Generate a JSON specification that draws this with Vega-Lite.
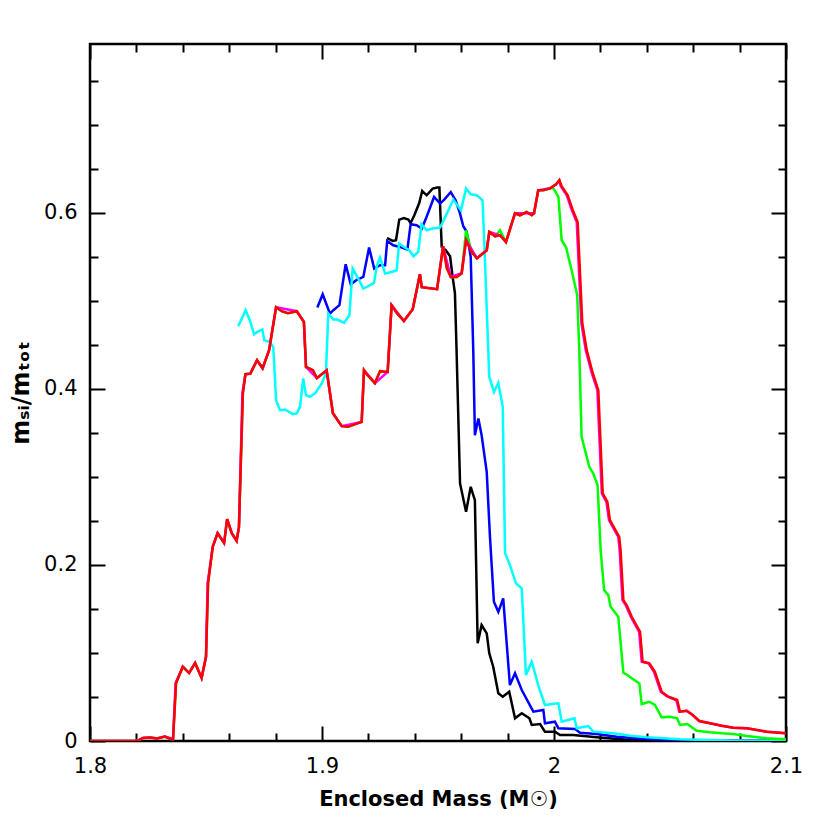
{
  "$schema": "https://vega.github.io/schema/vega-lite/v6.json",
  "width": 696,
  "height": 697,
  "autosize": {"type": "none"},
  "padding": {"left": 90, "top": 44, "right": 44, "bottom": 89},
  "background": "white",
  "config": {
    "view": {"stroke": "black", "strokeWidth": 2.5},
    "axis": {"grid": false, "domain": false, "tickColor": "black", "tickWidth": 2, "labelColor": "black", "titleColor": "black", "labelFont": "DejaVu Sans", "titleFont": "DejaVu Sans", "labelFontSize": 21, "titleFontSize": 21, "labelFlush": false, "labelOverlap": false, "labelBound": false}
  },
  "data": {"values": [
    {"s":"r","x":1.8,"y":0},{"s":"r","x":1.8203,"y":0},{"s":"r","x":1.8228,"y":0.0034},{"s":"r","x":1.8259,"y":0.004},{"s":"r","x":1.8289,"y":0.0028},{"s":"r","x":1.8323,"y":0.0051},{"s":"r","x":1.8345,"y":0.0023},{"s":"r","x":1.8358,"y":0.0023},{"s":"r","x":1.8371,"y":0.0659},{"s":"r","x":1.84,"y":0.0844},{"s":"r","x":1.8427,"y":0.0772},{"s":"r","x":1.8453,"y":0.0886},{"s":"r","x":1.8481,"y":0.0716},{"s":"r","x":1.85,"y":0.0957},{"s":"r","x":1.8509,"y":0.1794},{"s":"r","x":1.8529,"y":0.2207},{"s":"r","x":1.855,"y":0.2362},{"s":"r","x":1.8578,"y":0.2249},{"s":"r","x":1.8591,"y":0.2521},{"s":"r","x":1.8611,"y":0.2362},{"s":"r","x":1.8632,"y":0.2275},{"s":"r","x":1.8642,"y":0.243},{"s":"r","x":1.8659,"y":0.3952},{"s":"r","x":1.867,"y":0.4168},{"s":"r","x":1.8691,"y":0.4174},{"s":"r","x":1.872,"y":0.4327},{"s":"r","x":1.8744,"y":0.4236},{"s":"r","x":1.8772,"y":0.4441},{"s":"r","x":1.8802,"y":0.4929},{"s":"r","x":1.8826,"y":0.4884},{"s":"r","x":1.8853,"y":0.4861},{"s":"r","x":1.8891,"y":0.4884},{"s":"r","x":1.8922,"y":0.4762},{"s":"r","x":1.8931,"y":0.4251},{"s":"r","x":1.8961,"y":0.4213},{"s":"r","x":1.8978,"y":0.4123},{"s":"r","x":1.902,"y":0.4213},{"s":"r","x":1.9047,"y":0.3725},{"s":"r","x":1.9085,"y":0.3578},{"s":"r","x":1.9112,"y":0.357},{"s":"r","x":1.9171,"y":0.3626},{"s":"r","x":1.9181,"y":0.4213},{"s":"r","x":1.9193,"y":0.4168},{"s":"r","x":1.9228,"y":0.4066},{"s":"r","x":1.925,"y":0.4202},{"s":"r","x":1.9283,"y":0.4194},{"s":"r","x":1.93,"y":0.4952},{"s":"r","x":1.9323,"y":0.4861},{"s":"r","x":1.9353,"y":0.4773},{"s":"r","x":1.9391,"y":0.4906},{"s":"r","x":1.9422,"y":0.5304},{"s":"r","x":1.943,"y":0.5156},{"s":"r","x":1.9496,"y":0.5134},{"s":"r","x":1.9522,"y":0.5622},{"s":"r","x":1.9538,"y":0.5372},{"s":"r","x":1.9555,"y":0.5273},{"s":"r","x":1.9581,"y":0.5273},{"s":"r","x":1.9602,"y":0.5315},{"s":"r","x":1.9621,"y":0.569},{"s":"r","x":1.9645,"y":0.5557},{"s":"r","x":1.9668,"y":0.5485},{"s":"r","x":1.971,"y":0.5576},{"s":"r","x":1.9721,"y":0.5784},{"s":"r","x":1.9746,"y":0.5735},{"s":"r","x":1.9767,"y":0.5747},{"s":"r","x":1.9793,"y":0.5671},{"s":"r","x":1.9832,"y":0.5997},{"s":"r","x":1.9853,"y":0.5974},{"s":"r","x":1.9882,"y":0.6011},{"s":"r","x":1.9904,"y":0.5974},{"s":"r","x":1.9914,"y":0.5997},{"s":"r","x":1.9932,"y":0.6258},{"s":"r","x":1.9954,"y":0.6258},{"s":"r","x":1.9983,"y":0.628},{"s":"r","x":2.0009,"y":0.6326},{"s":"r","x":2.0023,"y":0.6371},{"s":"r","x":2.0033,"y":0.6303},{"s":"r","x":2.0059,"y":0.6201},{"s":"r","x":2.0081,"y":0.6031},{"s":"r","x":2.0102,"y":0.5898},{"s":"r","x":2.0122,"y":0.4747},{"s":"r","x":2.0141,"y":0.4441},{"s":"r","x":2.0167,"y":0.4179},{"s":"r","x":2.0191,"y":0.3986},{"s":"r","x":2.021,"y":0.2813},{"s":"r","x":2.023,"y":0.2718},{"s":"r","x":2.0241,"y":0.251},{"s":"r","x":2.0281,"y":0.232},{"s":"r","x":2.0287,"y":0.2169},{"s":"r","x":2.0299,"y":0.1601},{"s":"r","x":2.0313,"y":0.1545},{"s":"r","x":2.0335,"y":0.1412},{"s":"r","x":2.0371,"y":0.1241},{"s":"r","x":2.0382,"y":0.0901},{"s":"r","x":2.0411,"y":0.0882},{"s":"r","x":2.0435,"y":0.0787},{"s":"r","x":2.0464,"y":0.056},{"s":"r","x":2.0493,"y":0.0503},{"s":"r","x":2.0531,"y":0.0466},{"s":"r","x":2.0543,"y":0.0333},{"s":"r","x":2.0572,"y":0.0344},{"s":"r","x":2.0598,"y":0.0295},{"s":"r","x":2.0626,"y":0.0227},{"s":"r","x":2.0672,"y":0.0201},{"s":"r","x":2.0723,"y":0.0174},{"s":"r","x":2.0773,"y":0.0151},{"s":"r","x":2.0831,"y":0.0144},{"s":"r","x":2.0917,"y":0.0106},{"s":"r","x":2.1,"y":0.0087},

    {"s":"m","x":1.8,"y":0},{"s":"m","x":1.8203,"y":0},{"s":"m","x":1.8228,"y":0.0034},{"s":"m","x":1.8259,"y":0.004},{"s":"m","x":1.8289,"y":0.0028},{"s":"m","x":1.8323,"y":0.0051},{"s":"m","x":1.8358,"y":0.0023},{"s":"m","x":1.8369,"y":0.0659},{"s":"m","x":1.84,"y":0.0844},{"s":"m","x":1.8427,"y":0.0772},{"s":"m","x":1.8453,"y":0.0886},{"s":"m","x":1.8481,"y":0.0716},{"s":"m","x":1.85,"y":0.0957},{"s":"m","x":1.8507,"y":0.1794},{"s":"m","x":1.8529,"y":0.2207},{"s":"m","x":1.855,"y":0.2362},{"s":"m","x":1.8578,"y":0.2249},{"s":"m","x":1.8591,"y":0.2521},{"s":"m","x":1.8611,"y":0.2362},{"s":"m","x":1.8632,"y":0.2275},{"s":"m","x":1.8642,"y":0.243},{"s":"m","x":1.8657,"y":0.3952},{"s":"m","x":1.867,"y":0.4168},{"s":"m","x":1.8691,"y":0.4174},{"s":"m","x":1.872,"y":0.4327},{"s":"m","x":1.8744,"y":0.4236},{"s":"m","x":1.8772,"y":0.4441},{"s":"m","x":1.8802,"y":0.4929},{"s":"m","x":1.8891,"y":0.4884},{"s":"m","x":1.8922,"y":0.4762},{"s":"m","x":1.8931,"y":0.4251},{"s":"m","x":1.8978,"y":0.4123},{"s":"m","x":1.902,"y":0.4213},{"s":"m","x":1.9047,"y":0.3725},{"s":"m","x":1.9085,"y":0.3578},{"s":"m","x":1.9171,"y":0.3626},{"s":"m","x":1.9181,"y":0.4213},{"s":"m","x":1.9228,"y":0.4066},{"s":"m","x":1.9283,"y":0.4194},{"s":"m","x":1.93,"y":0.4952},{"s":"m","x":1.9353,"y":0.4773},{"s":"m","x":1.9391,"y":0.4906},{"s":"m","x":1.9422,"y":0.5304},{"s":"m","x":1.943,"y":0.5156},{"s":"m","x":1.9496,"y":0.5134},{"s":"m","x":1.9522,"y":0.5622},{"s":"m","x":1.9555,"y":0.5273},{"s":"m","x":1.9602,"y":0.5315},{"s":"m","x":1.9621,"y":0.569},{"s":"m","x":1.9668,"y":0.5485},{"s":"m","x":1.971,"y":0.5576},{"s":"m","x":1.9721,"y":0.5784},{"s":"m","x":1.9767,"y":0.5747},{"s":"m","x":1.9793,"y":0.5671},{"s":"m","x":1.9832,"y":0.5997},{"s":"m","x":1.9914,"y":0.5997},{"s":"m","x":1.9932,"y":0.6258},{"s":"m","x":1.9983,"y":0.628},{"s":"m","x":2.0009,"y":0.6326},{"s":"m","x":2.0023,"y":0.6371},{"s":"m","x":2.0029,"y":0.6303},{"s":"m","x":2.0055,"y":0.6201},{"s":"m","x":2.0077,"y":0.6031},{"s":"m","x":2.0098,"y":0.5898},{"s":"m","x":2.0118,"y":0.4747},{"s":"m","x":2.0137,"y":0.4441},{"s":"m","x":2.0163,"y":0.4179},{"s":"m","x":2.0187,"y":0.3986},{"s":"m","x":2.0206,"y":0.2813},{"s":"m","x":2.0226,"y":0.2718},{"s":"m","x":2.0237,"y":0.251},{"s":"m","x":2.0277,"y":0.232},{"s":"m","x":2.0283,"y":0.2169},{"s":"m","x":2.0295,"y":0.1601},{"s":"m","x":2.0309,"y":0.1545},{"s":"m","x":2.0331,"y":0.1412},{"s":"m","x":2.0367,"y":0.1241},{"s":"m","x":2.0378,"y":0.0901},{"s":"m","x":2.0407,"y":0.0882},{"s":"m","x":2.0431,"y":0.0787},{"s":"m","x":2.046,"y":0.056},{"s":"m","x":2.0489,"y":0.0503},{"s":"m","x":2.0527,"y":0.0466},{"s":"m","x":2.054,"y":0.0333},{"s":"m","x":2.0572,"y":0.0344},{"s":"m","x":2.0598,"y":0.0295},{"s":"m","x":2.0626,"y":0.0227},{"s":"m","x":2.0672,"y":0.0201},{"s":"m","x":2.0723,"y":0.0174},{"s":"m","x":2.0773,"y":0.0151},{"s":"m","x":2.0831,"y":0.0144},{"s":"m","x":2.0917,"y":0.0106},{"s":"m","x":2.1,"y":0.0087},

    {"s":"g","x":1.8,"y":0},{"s":"g","x":1.8203,"y":0},{"s":"g","x":1.8228,"y":0.0034},{"s":"g","x":1.8259,"y":0.004},{"s":"g","x":1.8289,"y":0.0028},{"s":"g","x":1.8323,"y":0.0051},{"s":"g","x":1.8345,"y":0.0023},{"s":"g","x":1.8358,"y":0.0023},{"s":"g","x":1.8371,"y":0.0659},{"s":"g","x":1.84,"y":0.0844},{"s":"g","x":1.8427,"y":0.0772},{"s":"g","x":1.8453,"y":0.0886},{"s":"g","x":1.8481,"y":0.0716},{"s":"g","x":1.85,"y":0.0957},{"s":"g","x":1.8509,"y":0.1794},{"s":"g","x":1.8529,"y":0.2207},{"s":"g","x":1.855,"y":0.2362},{"s":"g","x":1.8578,"y":0.2249},{"s":"g","x":1.8591,"y":0.2521},{"s":"g","x":1.8611,"y":0.2362},{"s":"g","x":1.8632,"y":0.2275},{"s":"g","x":1.8642,"y":0.243},{"s":"g","x":1.8659,"y":0.3952},{"s":"g","x":1.867,"y":0.4168},{"s":"g","x":1.8691,"y":0.4174},{"s":"g","x":1.872,"y":0.4327},{"s":"g","x":1.8744,"y":0.4236},{"s":"g","x":1.8772,"y":0.4441},{"s":"g","x":1.8802,"y":0.4929},{"s":"g","x":1.8826,"y":0.4884},{"s":"g","x":1.8853,"y":0.4861},{"s":"g","x":1.8891,"y":0.4884},{"s":"g","x":1.8922,"y":0.4762},{"s":"g","x":1.8931,"y":0.4251},{"s":"g","x":1.8961,"y":0.4213},{"s":"g","x":1.8978,"y":0.4123},{"s":"g","x":1.902,"y":0.4213},{"s":"g","x":1.9047,"y":0.3725},{"s":"g","x":1.9085,"y":0.3578},{"s":"g","x":1.9112,"y":0.357},{"s":"g","x":1.9171,"y":0.3626},{"s":"g","x":1.9181,"y":0.4213},{"s":"g","x":1.9193,"y":0.4168},{"s":"g","x":1.9228,"y":0.4066},{"s":"g","x":1.925,"y":0.4202},{"s":"g","x":1.9283,"y":0.4194},{"s":"g","x":1.93,"y":0.4952},{"s":"g","x":1.9323,"y":0.4861},{"s":"g","x":1.9353,"y":0.4773},{"s":"g","x":1.9391,"y":0.4906},{"s":"g","x":1.9422,"y":0.5304},{"s":"g","x":1.943,"y":0.5156},{"s":"g","x":1.9496,"y":0.5134},{"s":"g","x":1.9522,"y":0.5622},{"s":"g","x":1.9538,"y":0.5372},{"s":"g","x":1.9555,"y":0.5273},{"s":"g","x":1.9581,"y":0.5273},{"s":"g","x":1.9602,"y":0.5315},{"s":"g","x":1.9621,"y":0.5803},{"s":"g","x":1.9645,"y":0.5557},{"s":"g","x":1.9668,"y":0.5485},{"s":"g","x":1.971,"y":0.5576},{"s":"g","x":1.9721,"y":0.5784},{"s":"g","x":1.9746,"y":0.5735},{"s":"g","x":1.9767,"y":0.5803},{"s":"g","x":1.9793,"y":0.5671},{"s":"g","x":1.9832,"y":0.5997},{"s":"g","x":1.9853,"y":0.5974},{"s":"g","x":1.9882,"y":0.6011},{"s":"g","x":1.9904,"y":0.5974},{"s":"g","x":1.9914,"y":0.5997},{"s":"g","x":1.9932,"y":0.6258},{"s":"g","x":1.9954,"y":0.6258},{"s":"g","x":1.9983,"y":0.628},{"s":"g","x":1.9997,"y":0.628},{"s":"g","x":2.0019,"y":0.6182},{"s":"g","x":2.0033,"y":0.569},{"s":"g","x":2.0052,"y":0.561},{"s":"g","x":2.0076,"y":0.5349},{"s":"g","x":2.01,"y":0.5065},{"s":"g","x":2.0109,"y":0.4441},{"s":"g","x":2.0119,"y":0.3456},{"s":"g","x":2.0152,"y":0.3115},{"s":"g","x":2.0169,"y":0.304},{"s":"g","x":2.0188,"y":0.2907},{"s":"g","x":2.0201,"y":0.2169},{"s":"g","x":2.0216,"y":0.1715},{"s":"g","x":2.0234,"y":0.1658},{"s":"g","x":2.0244,"y":0.1525},{"s":"g","x":2.0277,"y":0.1412},{"s":"g","x":2.0299,"y":0.0776},{"s":"g","x":2.0316,"y":0.075},{"s":"g","x":2.0335,"y":0.0712},{"s":"g","x":2.0368,"y":0.0655},{"s":"g","x":2.0378,"y":0.042},{"s":"g","x":2.0411,"y":0.0446},{"s":"g","x":2.0435,"y":0.0409},{"s":"g","x":2.0464,"y":0.0269},{"s":"g","x":2.05,"y":0.0276},{"s":"g","x":2.0531,"y":0.0258},{"s":"g","x":2.0543,"y":0.0182},{"s":"g","x":2.0575,"y":0.0193},{"s":"g","x":2.0615,"y":0.0117},{"s":"g","x":2.0672,"y":0.0099},{"s":"g","x":2.0723,"y":0.0087},{"s":"g","x":2.0773,"y":0.0079},{"s":"g","x":2.0831,"y":0.0057},{"s":"g","x":2.0917,"y":0.0031},{"s":"g","x":2.1,"y":0.0019},

    {"s":"k","x":1.928,"y":0.5713},{"s":"k","x":1.9286,"y":0.5709},{"s":"k","x":1.9305,"y":0.5682},{"s":"k","x":1.9319,"y":0.569},{"s":"k","x":1.9333,"y":0.5925},{"s":"k","x":1.9353,"y":0.5943},{"s":"k","x":1.9372,"y":0.5925},{"s":"k","x":1.9382,"y":0.5886},{"s":"k","x":1.9398,"y":0.5974},{"s":"k","x":1.9419,"y":0.6113},{"s":"k","x":1.9432,"y":0.625},{"s":"k","x":1.9451,"y":0.6201},{"s":"k","x":1.9477,"y":0.6277},{"s":"k","x":1.9497,"y":0.6288},{"s":"k","x":1.9506,"y":0.6288},{"s":"k","x":1.9516,"y":0.5614},{"s":"k","x":1.9534,"y":0.5576},{"s":"k","x":1.9552,"y":0.5508},{"s":"k","x":1.9563,"y":0.5273},{"s":"k","x":1.9573,"y":0.5088},{"s":"k","x":1.958,"y":0.4441},{"s":"k","x":1.9595,"y":0.2927},{"s":"k","x":1.9621,"y":0.2604},{"s":"k","x":1.9641,"y":0.2888},{"s":"k","x":1.9659,"y":0.2737},{"s":"k","x":1.9671,"y":0.111},{"s":"k","x":1.9688,"y":0.1317},{"s":"k","x":1.971,"y":0.1223},{"s":"k","x":1.9721,"y":0.0996},{"s":"k","x":1.9738,"y":0.0844},{"s":"k","x":1.976,"y":0.0542},{"s":"k","x":1.9779,"y":0.0503},{"s":"k","x":1.9807,"y":0.056},{"s":"k","x":1.9832,"y":0.0258},{"s":"k","x":1.9861,"y":0.0315},{"s":"k","x":1.9894,"y":0.0258},{"s":"k","x":1.9904,"y":0.0182},{"s":"k","x":1.994,"y":0.0193},{"s":"k","x":1.9961,"y":0.0106},{"s":"k","x":2.0004,"y":0.0106},{"s":"k","x":2.0026,"y":0.0068},{"s":"k","x":2.0083,"y":0.0068},{"s":"k","x":2.0184,"y":0.0042},{"s":"k","x":2.0328,"y":0.0011},{"s":"k","x":2.0543,"y":0.0003},{"s":"k","x":2.1,"y":0},

    {"s":"b","x":1.898,"y":0.4925},{"s":"b","x":1.9003,"y":0.5077},{"s":"b","x":1.9034,"y":0.4857},{"s":"b","x":1.9049,"y":0.4895},{"s":"b","x":1.9075,"y":0.4952},{"s":"b","x":1.9102,"y":0.5417},{"s":"b","x":1.9124,"y":0.519},{"s":"b","x":1.9147,"y":0.5236},{"s":"b","x":1.9178,"y":0.5273},{"s":"b","x":1.9203,"y":0.5607},{"s":"b","x":1.9225,"y":0.5368},{"s":"b","x":1.925,"y":0.5406},{"s":"b","x":1.9272,"y":0.5406},{"s":"b","x":1.9281,"y":0.5682},{"s":"b","x":1.9307,"y":0.5633},{"s":"b","x":1.9336,"y":0.5614},{"s":"b","x":1.9368,"y":0.5584},{"s":"b","x":1.9382,"y":0.5872},{"s":"b","x":1.9408,"y":0.586},{"s":"b","x":1.943,"y":0.5823},{"s":"b","x":1.9448,"y":0.5936},{"s":"b","x":1.9483,"y":0.6182},{"s":"b","x":1.9509,"y":0.6107},{"s":"b","x":1.9527,"y":0.6152},{"s":"b","x":1.9555,"y":0.6238},{"s":"b","x":1.9576,"y":0.6144},{"s":"b","x":1.9595,"y":0.5993},{"s":"b","x":1.9609,"y":0.5849},{"s":"b","x":1.9624,"y":0.5784},{"s":"b","x":1.9641,"y":0.55},{"s":"b","x":1.9652,"y":0.4441},{"s":"b","x":1.9659,"y":0.3475},{"s":"b","x":1.9674,"y":0.3665},{"s":"b","x":1.9688,"y":0.3475},{"s":"b","x":1.971,"y":0.3058},{"s":"b","x":1.9724,"y":0.232},{"s":"b","x":1.9741,"y":0.1582},{"s":"b","x":1.976,"y":0.1468},{"s":"b","x":1.9781,"y":0.1621},{"s":"b","x":1.981,"y":0.0636},{"s":"b","x":1.9832,"y":0.0769},{"s":"b","x":1.9861,"y":0.0579},{"s":"b","x":1.9911,"y":0.0333},{"s":"b","x":1.9954,"y":0.0352},{"s":"b","x":1.9961,"y":0.0201},{"s":"b","x":2.0004,"y":0.0219},{"s":"b","x":2.0019,"y":0.0144},{"s":"b","x":2.0091,"y":0.0136},{"s":"b","x":2.0112,"y":0.0094},{"s":"b","x":2.0184,"y":0.0079},{"s":"b","x":2.027,"y":0.0049},{"s":"b","x":2.04,"y":0.0023},{"s":"b","x":2.0543,"y":0.0011},{"s":"b","x":2.1,"y":0},

    {"s":"c","x":1.8639,"y":0.4713},{"s":"c","x":1.8671,"y":0.4895},{"s":"c","x":1.869,"y":0.4773},{"s":"c","x":1.8707,"y":0.4622},{"s":"c","x":1.8721,"y":0.4648},{"s":"c","x":1.8743,"y":0.4676},{"s":"c","x":1.8751,"y":0.4554},{"s":"c","x":1.8773,"y":0.4535},{"s":"c","x":1.879,"y":0.4478},{"s":"c","x":1.8802,"y":0.3873},{"s":"c","x":1.8819,"y":0.3759},{"s":"c","x":1.8841,"y":0.3767},{"s":"c","x":1.8874,"y":0.3714},{"s":"c","x":1.8891,"y":0.3722},{"s":"c","x":1.8905,"y":0.3797},{"s":"c","x":1.8919,"y":0.4119},{"s":"c","x":1.8931,"y":0.393},{"s":"c","x":1.8948,"y":0.391},{"s":"c","x":1.897,"y":0.3949},{"s":"c","x":1.8999,"y":0.4062},{"s":"c","x":1.9017,"y":0.4176},{"s":"c","x":1.9027,"y":0.4857},{"s":"c","x":1.9049,"y":0.4789},{"s":"c","x":1.9066,"y":0.4789},{"s":"c","x":1.9095,"y":0.4751},{"s":"c","x":1.9118,"y":0.4838},{"s":"c","x":1.9132,"y":0.5368},{"s":"c","x":1.9156,"y":0.5255},{"s":"c","x":1.9178,"y":0.5141},{"s":"c","x":1.92,"y":0.5168},{"s":"c","x":1.9224,"y":0.5205},{"s":"c","x":1.9236,"y":0.5395},{"s":"c","x":1.925,"y":0.5493},{"s":"c","x":1.9272,"y":0.5312},{"s":"c","x":1.93,"y":0.533},{"s":"c","x":1.9322,"y":0.5349},{"s":"c","x":1.9332,"y":0.5652},{"s":"c","x":1.9353,"y":0.5614},{"s":"c","x":1.9376,"y":0.5576},{"s":"c","x":1.9394,"y":0.5508},{"s":"c","x":1.9415,"y":0.5557},{"s":"c","x":1.9429,"y":0.5872},{"s":"c","x":1.9451,"y":0.5803},{"s":"c","x":1.9477,"y":0.5823},{"s":"c","x":1.9509,"y":0.5834},{"s":"c","x":1.9538,"y":0.5993},{"s":"c","x":1.9566,"y":0.6152},{"s":"c","x":1.9599,"y":0.6031},{"s":"c","x":1.9621,"y":0.6277},{"s":"c","x":1.9641,"y":0.6212},{"s":"c","x":1.9667,"y":0.6201},{"s":"c","x":1.9692,"y":0.6144},{"s":"c","x":1.97,"y":0.5633},{"s":"c","x":1.9721,"y":0.4137},{"s":"c","x":1.9741,"y":0.3967},{"s":"c","x":1.976,"y":0.4069},{"s":"c","x":1.9779,"y":0.3797},{"s":"c","x":1.9789,"y":0.2135},{"s":"c","x":1.981,"y":0.1999},{"s":"c","x":1.9836,"y":0.1791},{"s":"c","x":1.9861,"y":0.1734},{"s":"c","x":1.9879,"y":0.075},{"s":"c","x":1.9904,"y":0.0901},{"s":"c","x":1.9932,"y":0.0636},{"s":"c","x":1.9961,"y":0.0409},{"s":"c","x":1.999,"y":0.042},{"s":"c","x":2.0019,"y":0.0428},{"s":"c","x":2.0033,"y":0.0219},{"s":"c","x":2.0088,"y":0.0258},{"s":"c","x":2.0098,"y":0.0144},{"s":"c","x":2.0148,"y":0.017},{"s":"c","x":2.0169,"y":0.0106},{"s":"c","x":2.0256,"y":0.0087},{"s":"c","x":2.0328,"y":0.006},{"s":"c","x":2.04,"y":0.0042},{"s":"c","x":2.0543,"y":0.0019},{"s":"c","x":2.0759,"y":0.0006},{"s":"c","x":2.1,"y":0}
  ]},
  "encoding": {
    "x": {"field": "x", "type": "quantitative", "scale": {"domain": [1.8, 2.1], "nice": false, "zero": false}},
    "y": {"field": "y", "type": "quantitative", "scale": {"domain": [0, 0.792], "nice": false, "zero": false}}
  },
  "layer": [
    {
      "transform": [{"filter": "datum.s == 'k'"}],
      "mark": {"type": "line", "color": "#000000", "strokeWidth": 2.5, "clip": true},
      "encoding": {
        "x": {"field": "x", "type": "quantitative", "axis": {"orient": "bottom", "values": [1.8, 1.9, 2, 2.1], "tickSize": -15, "labelPadding": 29, "labelExpr": "datum.value == 2 ? '2' : format(datum.value, '.1f')", "title": "Enclosed Mass (M☉)", "titlePadding": 12}},
        "y": {"field": "y", "type": "quantitative", "axis": {"orient": "left", "values": [0, 0.2, 0.4, 0.6], "tickSize": -15, "labelPadding": 28, "labelExpr": "datum.value == 0 ? '0' : format(datum.value, '.1f')", "title": "mₛᵢ/mₜₒₜ", "titleFontSize": 24, "titlePadding": 10}}
      }
    },
    {
      "transform": [{"filter": "datum.s == 'b'"}],
      "mark": {"type": "line", "color": "#0000ff", "strokeWidth": 2.5, "clip": true},
      "encoding": {
        "x": {"field": "x", "type": "quantitative", "axis": {"orient": "bottom", "values": [1.82, 1.84, 1.86, 1.88, 1.92, 1.94, 1.96, 1.98, 2.02, 2.04, 2.06, 2.08], "tickSize": -8, "labels": false, "title": null}},
        "y": {"field": "y", "type": "quantitative", "axis": {"orient": "left", "values": [0.05, 0.1, 0.15, 0.25, 0.3, 0.35, 0.45, 0.5, 0.55, 0.65, 0.7, 0.75], "tickSize": -8, "labels": false, "title": null}}
      }
    },
    {
      "transform": [{"filter": "datum.s == 'c'"}],
      "mark": {"type": "line", "color": "#00ffff", "strokeWidth": 2.5, "clip": true},
      "encoding": {
        "x": {"field": "x", "type": "quantitative", "axis": {"orient": "top", "values": [1.8, 1.9, 2, 2.1], "tickSize": -15, "labels": false, "title": null}},
        "y": {"field": "y", "type": "quantitative", "axis": {"orient": "right", "values": [0, 0.2, 0.4, 0.6], "tickSize": -15, "labels": false, "title": null}}
      }
    },
    {
      "transform": [{"filter": "datum.s == 'g'"}],
      "mark": {"type": "line", "color": "#00ff00", "strokeWidth": 2.5, "clip": true},
      "encoding": {
        "x": {"field": "x", "type": "quantitative", "axis": {"orient": "top", "values": [1.82, 1.84, 1.86, 1.88, 1.92, 1.94, 1.96, 1.98, 2.02, 2.04, 2.06, 2.08], "tickSize": -8, "labels": false, "title": null}},
        "y": {"field": "y", "type": "quantitative", "axis": {"orient": "right", "values": [0.05, 0.1, 0.15, 0.25, 0.3, 0.35, 0.45, 0.5, 0.55, 0.65, 0.7, 0.75], "tickSize": -8, "labels": false, "title": null}}
      }
    },
    {
      "transform": [{"filter": "datum.s == 'm'"}],
      "mark": {"type": "line", "color": "#ff00ff", "strokeWidth": 2.5, "clip": true},
      "encoding": {
        "x": {"field": "x", "type": "quantitative", "axis": null},
        "y": {"field": "y", "type": "quantitative", "axis": null}
      }
    },
    {
      "transform": [{"filter": "datum.s == 'r'"}],
      "mark": {"type": "line", "color": "#ff0000", "strokeWidth": 2.5, "clip": true},
      "encoding": {
        "x": {"field": "x", "type": "quantitative", "axis": null},
        "y": {"field": "y", "type": "quantitative", "axis": null}
      }
    }
  ],
  "resolve": {"axis": {"x": "independent", "y": "independent"}}
}
